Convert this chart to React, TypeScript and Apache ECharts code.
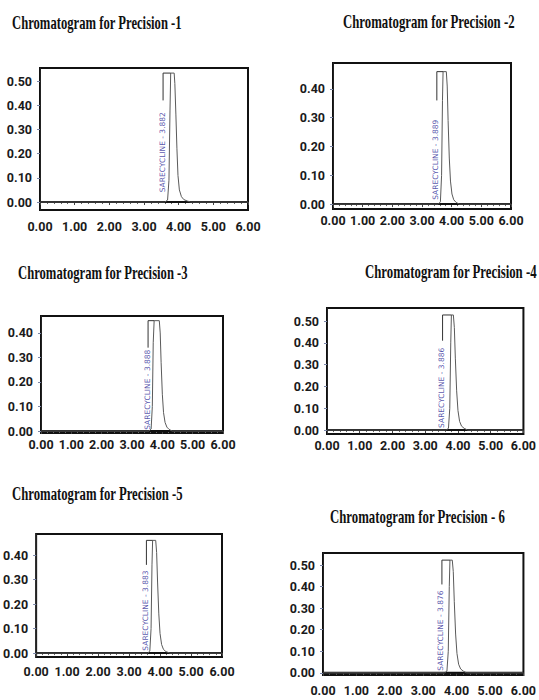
import React, { useEffect, useRef } from "react";
import * as echarts from "echarts";

// ---------- data ----------
const titles = [
  "Chromatogram for Precision -1",
  "Chromatogram for Precision -2",
  "Chromatogram for Precision -3",
  "Chromatogram for Precision -4",
  "Chromatogram for Precision -5",
  "Chromatogram for Precision - 6",
];
const peakLabels = [
  "SARECYCLINE - 3.882",
  "SARECYCLINE - 3.889",
  "SARECYCLINE - 3.888",
  "SARECYCLINE - 3.886",
  "SARECYCLINE - 3.883",
  "SARECYCLINE - 3.876",
];
const xTickValues = [0, 1, 2, 3, 4, 5, 6];
const xTickLabels = ["0.00", "1.00", "2.00", "3.00", "4.00", "5.00", "6.00"];
const yTicksTo050 = [0, 0.1, 0.2, 0.3, 0.4, 0.5];
const yTicksTo040 = [0, 0.1, 0.2, 0.3, 0.4];
const yTickLabels = ["0.00", "0.10", "0.20", "0.30", "0.40", "0.50"];

const p1Time = [0, 3.6, 3.68, 3.72, 3.75, 3.77, 3.87, 3.89, 3.92, 3.95, 3.98, 4.02, 4.08, 4.15, 4.25, 4.35, 6.0];
const p1Abs = [0, 0, 0.008, 0.09, 0.38, 0.533, 0.533, 0.49, 0.36, 0.22, 0.11, 0.05, 0.022, 0.01, 0.004, 0, 0];
const p2Time = [0, 3.55, 3.62, 3.66, 3.69, 3.71, 3.82, 3.85, 3.88, 3.92, 3.96, 4.01, 4.07, 4.15, 4.25, 6.0];
const p2Abs = [0, 0, 0.008, 0.1, 0.36, 0.46, 0.46, 0.41, 0.29, 0.16, 0.08, 0.035, 0.015, 0.006, 0, 0];
const p3Time = [0, 3.56, 3.63, 3.67, 3.7, 3.73, 3.9, 3.93, 3.96, 4.0, 4.04, 4.09, 4.15, 4.22, 4.32, 6.0];
const p3Abs = [0, 0, 0.008, 0.1, 0.36, 0.45, 0.45, 0.4, 0.28, 0.15, 0.075, 0.035, 0.016, 0.007, 0, 0];
const p4Time = [0, 3.64, 3.71, 3.75, 3.78, 3.8, 3.86, 3.89, 3.92, 3.96, 4.0, 4.05, 4.11, 4.19, 4.3, 6.0];
const p4Abs = [0, 0, 0.008, 0.1, 0.4, 0.528, 0.528, 0.47, 0.33, 0.18, 0.09, 0.04, 0.018, 0.008, 0, 0];
const p5Time = [0, 3.6, 3.67, 3.71, 3.74, 3.76, 3.86, 3.89, 3.92, 3.96, 4.0, 4.05, 4.11, 4.19, 4.32, 6.0];
const p5Abs = [0, 0, 0.008, 0.1, 0.36, 0.46, 0.46, 0.41, 0.29, 0.16, 0.08, 0.035, 0.015, 0.006, 0, 0];
const p6Time = [0, 3.64, 3.71, 3.75, 3.78, 3.8, 3.87, 3.9, 3.93, 3.97, 4.01, 4.06, 4.12, 4.2, 4.3, 6.0];
const p6Abs = [0, 0, 0.008, 0.1, 0.4, 0.523, 0.523, 0.47, 0.33, 0.18, 0.09, 0.04, 0.018, 0.008, 0, 0];

const bracketTime = [3.55, 3.5, 3.53, 3.53, 3.56, 3.56];
const bracketEnd = [3.77, 3.71, 3.73, 3.8, 3.76, 3.8];
const bracketLow = [0.42, 0.36, 0.34, 0.41, 0.36, 0.41];
const peakTop = [0.533, 0.46, 0.45, 0.528, 0.46, 0.523];
const labelTime = [3.52, 3.47, 3.5, 3.5, 3.53, 3.53];
const labelLow = [0.04, 0.015, 0.005, 0.01, 0.01, 0.01];
const yMin = [-0.033, -0.017, -0.008, -0.018, -0.016, -0.01];
const yMax = [0.554, 0.49, 0.469, 0.56, 0.486, 0.556];

// ---------- layout ----------
const times = [p1Time, p2Time, p3Time, p4Time, p5Time, p6Time];
const abss = [p1Abs, p2Abs, p3Abs, p4Abs, p5Abs, p6Abs];
const yTickSets = [yTicksTo050, yTicksTo040, yTicksTo040, yTicksTo050, yTicksTo040, yTicksTo050];
const boxes = [
  { left: 40, top: 68, width: 208, height: 142, xMargin: 10 },
  { left: 333, top: 63, width: 178, height: 146, xMargin: 5 },
  { left: 41, top: 316, width: 182, height: 117, xMargin: 5 },
  { left: 327, top: 308, width: 199, height: 126, xMargin: 5 },
  { left: 35, top: 534, width: 187, height: 123, xMargin: 8 },
  { left: 323, top: 553, width: 202, height: 122, xMargin: 9 },
];
const titlePos = [
  { x: 12, y: 23, w: 170 },
  { x: 343, y: 22, w: 172 },
  { x: 18, y: 273, w: 170 },
  { x: 365, y: 272, w: 172 },
  { x: 12, y: 494, w: 171 },
  { x: 330, y: 517, w: 175 },
];
const tickFont = "Roboto";

export default function App() {
  const ref = useRef<HTMLDivElement>(null);
  useEffect(() => {
    const chart = echarts.init(ref.current as HTMLDivElement, null, { renderer: "svg" });
    const titleFont = "bold 18px 'Liberation Serif'";
    const ctx = document.createElement("canvas").getContext("2d") as CanvasRenderingContext2D;
    ctx.font = titleFont;

    const grid: any[] = [];
    const xAxis: any[] = [];
    const yAxis: any[] = [];
    const series: any[] = [];
    const graphic: any[] = [];

    boxes.forEach((b, i) => {
      grid.push({
        left: b.left,
        top: b.top,
        width: b.width,
        height: b.height,
        show: true,
        borderColor: "#111",
        borderWidth: 2,
        backgroundColor: "transparent",
      });
      xAxis.push({
        type: "value",
        gridIndex: i,
        min: 0,
        max: 6,
        interval: 1,
        axisLine: { show: true, lineStyle: { color: "#222", width: 1 } },
        axisTick: { show: true, length: 3, lineStyle: { color: "#444" } },
        minorTick: { show: true, splitNumber: 5, length: 2, lineStyle: { color: "#666" } },
        splitLine: { show: false },
        axisLabel: {
          margin: b.xMargin,
          fontFamily: tickFont,
          fontWeight: "bold",
          fontSize: 12.5,
          color: "#1a1a1a",
          formatter: (v: number) => xTickLabels[xTickValues.indexOf(v)] ?? "",
        },
      });
      yAxis.push({
        type: "value",
        gridIndex: i,
        min: yMin[i],
        max: yMax[i],
        axisLine: { show: true, lineStyle: { color: "#222", width: 1 } },
        axisTick: { show: true, length: 3, customValues: yTickSets[i], lineStyle: { color: "#7a86a8" } },
        splitLine: { show: false },
        axisLabel: {
          customValues: yTickSets[i],
          margin: 8,
          fontFamily: tickFont,
          fontWeight: "bold",
          fontSize: 12.5,
          color: "#1a1a1a",
          formatter: (v: number) => yTickLabels[Math.round(v * 10)],
        },
      });
      // baseline
      series.push({
        type: "line",
        xAxisIndex: i,
        yAxisIndex: i,
        data: [[xTickValues[0], 0], [xTickValues[xTickValues.length - 1], 0]],
        symbol: "none",
        lineStyle: { color: "#111", width: 2 },
        z: 2,
      });
      // chromatogram trace
      series.push({
        type: "line",
        xAxisIndex: i,
        yAxisIndex: i,
        data: times[i].map((t, k) => [t, abss[i][k]]),
        symbol: "none",
        lineStyle: { color: "#5a5a5a", width: 1 },
        z: 3,
      });
      // label bracket
      series.push({
        type: "line",
        xAxisIndex: i,
        yAxisIndex: i,
        data: [
          [bracketTime[i], bracketLow[i]],
          [bracketTime[i], peakTop[i]],
          [bracketEnd[i], peakTop[i]],
        ],
        symbol: "none",
        lineStyle: { color: "#333", width: 1 },
        z: 3,
      });
      // peak label
      series.push({
        type: "scatter",
        xAxisIndex: i,
        yAxisIndex: i,
        data: [[labelTime[i], labelLow[i]]],
        symbolSize: 1,
        itemStyle: { color: "transparent" },
        label: {
          show: true,
          formatter: peakLabels[i],
          position: "inside",
          rotate: 90,
          align: "left",
          verticalAlign: "middle",
          fontSize: 7.5,
          fontFamily: "DejaVu Sans",
          color: "#2e2b98",
        },
        z: 4,
      });
      const tp = titlePos[i];
      const w = ctx.measureText(titles[i]).width || 250;
      graphic.push({
        type: "text",
        x: tp.x,
        y: tp.y,
        scaleX: tp.w / w,
        style: {
          text: titles[i],
          font: titleFont,
          fill: "#111",
          align: "left",
          verticalAlign: "middle",
        },
      });
    });

    chart.setOption({
      animation: false,
      backgroundColor: "#fff",
      grid,
      xAxis,
      yAxis,
      series,
      graphic,
    });
    return () => chart.dispose();
  }, []);
  return (
    <div
      ref={ref}
      style={{ position: "absolute", left: 0, top: 0, width: 539, height: 700, background: "#fff" }}
    />
  );
}
